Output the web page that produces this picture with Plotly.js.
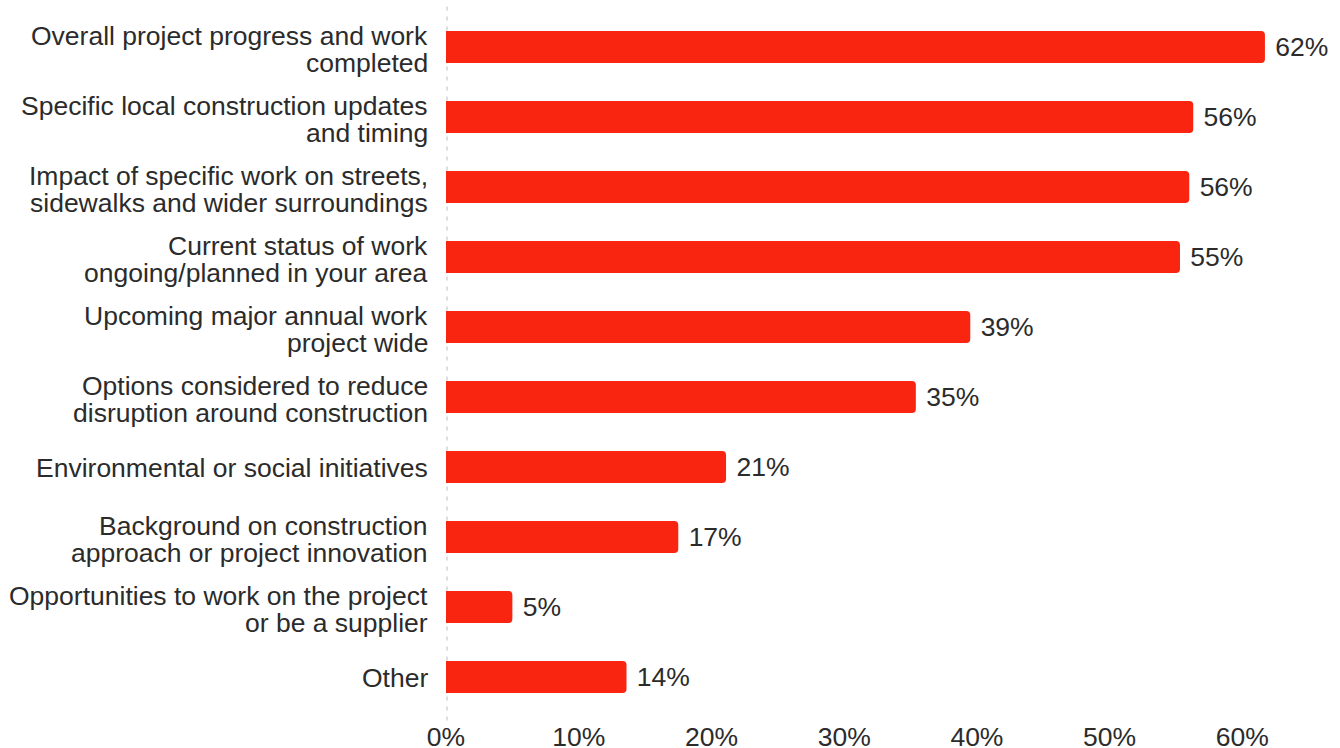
<!DOCTYPE html>
<html>
<head>
<meta charset="utf-8">
<script src="https://cdn.plot.ly/plotly-3.0.1.min.js"></script>
<style>html,body{margin:0;padding:0;background:#fff;}#chart{width:1340px;height:748px;}</style>
</head>
<body>
<div id="chart"></div>
<script>
// Each category label is split into its printed lines
const categoryLines = [
  ["Overall project progress and work", "completed"],
  ["Specific local construction updates", "and timing"],
  ["Impact of specific work on streets,", "sidewalks and wider surroundings"],
  ["Current status of work", "ongoing/planned in your area"],
  ["Upcoming major annual work", "project wide"],
  ["Options considered to reduce", "disruption around construction"],
  ["Environmental or social initiatives"],
  ["Background on construction", "approach or project innovation"],
  ["Opportunities to work on the project", "or be a supplier"],
  ["Other"]
];
const categories = categoryLines.map(l => l.join(" "));
const values = [61.7, 56.3, 56.0, 55.3, 39.5, 35.4, 21.1, 17.5, 5.0, 13.6];
const valueLabels = ["62%", "56%", "56%", "55%", "39%", "35%", "21%", "17%", "5%", "14%"];
const xTickValues = [0, 10, 20, 30, 40, 50, 60];
const xTickLabels = ["0%", "10%", "20%", "30%", "40%", "50%", "60%"];

const FONT = "Liberation Sans, Arial, Helvetica, sans-serif";
const TXT = "#2b2b2b";
const FS = 26.5;

const trace = {
  type: "bar",
  orientation: "h",
  y: categories,
  x: values,
  text: valueLabels,
  texttemplate: "\u00a0%{text}",
  textposition: "outside",
  cliponaxis: false,
  textfont: {family: FONT, size: FS, color: TXT},
  marker: {color: "#F92510"},
  hoverinfo: "none"
};

// left category labels, one annotation per printed line (tight line spacing)
const annotations = [];
categoryLines.forEach((lines, i) => {
  const shifts = lines.length === 1 ? [-1] : [11, -16];
  lines.forEach((line, j) => {
    annotations.push({
      xref: "paper", yref: "y",
      x: 0, y: categories[i],
      xanchor: "right", yanchor: "middle",
      xshift: -16, yshift: shifts[j],
      text: line, showarrow: false,
      font: {family: FONT, size: FS, color: TXT},
      align: "right"
    });
  });
});

const layout = {
  width: 1340,
  height: 748,
  margin: {l: 446, r: 18, t: 12, b: 36},
  paper_bgcolor: "#fff",
  plot_bgcolor: "#fff",
  showlegend: false,
  bargap: 0.543,
  barcornerradius: 4,
  font: {family: FONT, size: FS, color: TXT},
  xaxis: {
    range: [0, 66],
    tickvals: xTickValues,
    ticktext: xTickLabels,
    showgrid: false,
    zeroline: false,
    showline: false,
    ticks: "",
    ticklabelstandoff: 6,
    tickfont: {family: FONT, size: FS, color: TXT},
    fixedrange: true
  },
  yaxis: {
    autorange: "reversed",
    showgrid: false,
    zeroline: false,
    showline: false,
    ticks: "",
    showticklabels: false,
    fixedrange: true
  },
  annotations: annotations,
  shapes: [{
    type: "line", xref: "x", yref: "paper",
    x0: 0, x1: 0, y0: -0.012, y1: 1.01,
    line: {color: "#dedede", width: 4, dash: "4px,6px"},
    layer: "below"
  }]
};

Plotly.newPlot("chart", [trace], layout, {displayModeBar: false, staticPlot: true});
</script>
</body>
</html>
